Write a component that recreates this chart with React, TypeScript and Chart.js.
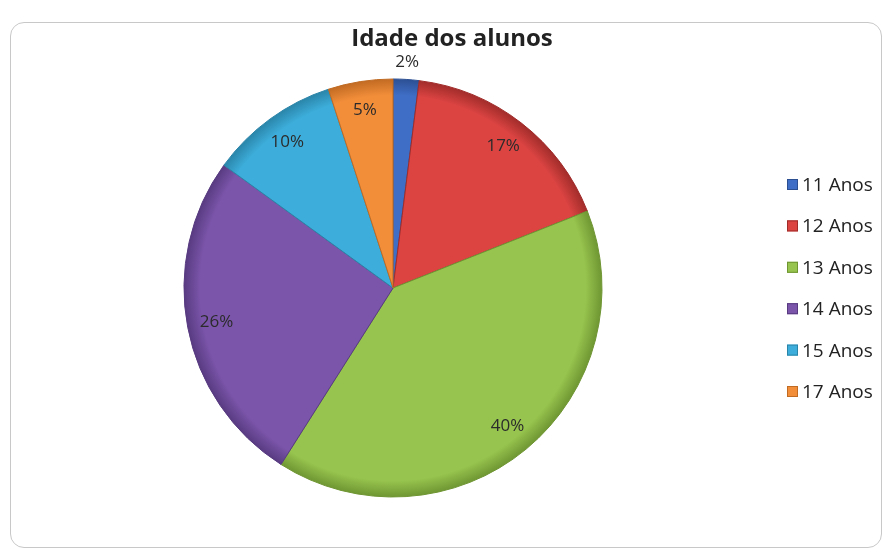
import React, { useEffect, useRef } from "react";
import { Chart, registerables } from "chart.js";
Chart.register(...registerables);

const chartTitle = "Idade dos alunos";
const categories = ["11 Anos", "12 Anos", "13 Anos", "14 Anos", "15 Anos", "17 Anos"];
const values = [2, 17, 40, 26, 10, 5];
const fillColors = ["#3F6EC6", "#DC4442", "#97C44E", "#7B55AA", "#3DAEDB", "#F28E3A"];
const edgeColors = ["#2C4F92", "#A02C2A", "#6E9532", "#573A80", "#2A84A8", "#C06A22"];

const FONT = "'Open Sans', 'DejaVu Sans', sans-serif";

export default function App() {
  const ref = useRef<HTMLCanvasElement>(null);
  useEffect(() => {
    const canvas = ref.current;
    if (!canvas) return;
    const total = values.reduce((a, b) => a + b, 0);

    const decor = {
      id: "decor",
      afterDraw(chart: any) {
        const ctx = chart.ctx as CanvasRenderingContext2D;
        const meta = chart.getDatasetMeta(0);
        ctx.save();
        // percentage labels
        ctx.font = `17px ${FONT}`;
        ctx.fillStyle = "#2b2b2b";
        ctx.textAlign = "center";
        ctx.textBaseline = "middle";
        meta.data.forEach((arc: any, i: number) => {
          const p = arc.getProps(["x", "y", "startAngle", "endAngle", "outerRadius"], true);
          const mid = (p.startAngle + p.endAngle) / 2;
          const frac = values[i] / total;
          const r = frac < 0.04 ? p.outerRadius + 17 : p.outerRadius * 0.86;
          const lx = p.x + Math.cos(mid) * r;
          const ly = p.y + Math.sin(mid) * r;
          ctx.fillText(Math.round(frac * 100) + "%", lx, ly);
        });
        // title
        ctx.font = `bold 24px ${FONT}`;
        ctx.fillStyle = "#222";
        ctx.fillText(chartTitle, 452, 39);
        // legend
        const cy = (chart.chartArea.top + chart.chartArea.bottom) / 2;
        const step = 41.4;
        ctx.font = `19px ${FONT}`;
        ctx.textAlign = "left";
        categories.forEach((c, i) => {
          const y = cy + (i - (categories.length - 1) / 2) * step;
          ctx.fillStyle = fillColors[i];
          ctx.fillRect(787, y - 5.5, 11, 11);
          ctx.strokeStyle = edgeColors[i];
          ctx.lineWidth = 1;
          ctx.strokeRect(787.5, y - 5, 10, 10);
          ctx.fillStyle = "#222";
          ctx.fillText(c, 802, y + 1);
        });
        ctx.restore();
      },
    };

    const chart = new Chart(canvas, {
      type: "pie",
      data: {
        labels: categories,
        datasets: [
          {
            data: values,
            backgroundColor: (c: any) => {
              const i = c.dataIndex;
              const area = c.chart.chartArea;
              if (!area) return fillColors[i];
              const cx = (area.left + area.right) / 2;
              const cyy = (area.top + area.bottom) / 2;
              const R = Math.min(area.right - area.left, area.bottom - area.top) / 2;
              const g = c.chart.ctx.createRadialGradient(cx, cyy, 0, cx, cyy, R);
              g.addColorStop(0, fillColors[i]);
              g.addColorStop(0.92, fillColors[i]);
              g.addColorStop(1, edgeColors[i]);
              return g;
            },
            borderColor: edgeColors,
            borderWidth: 1,
            hoverOffset: 0,
            offset: 0,
          } as any,
        ],
      },
      options: {
        responsive: false,
        animation: false,
        events: [],
        layout: { padding: { left: 183.5, top: 78.5, right: 285.5, bottom: 54.5 } },
        plugins: {
          legend: { display: false },
          title: { display: false },
          tooltip: { enabled: false },
        },
      },
      plugins: [decor],
    });
    return () => chart.destroy();
  }, []);

  return (
    <div style={{ position: "fixed", left: 0, top: 0, width: 888, height: 552, background: "#fff" }}>
      <div
        style={{
          position: "absolute",
          left: 10,
          top: 22,
          width: 872,
          height: 526,
          border: "1px solid #c8c8c8",
          borderRadius: 14,
          boxSizing: "border-box",
        }}
      />
      <canvas ref={ref} width={888} height={552} style={{ position: "absolute", left: 0, top: 0 }} />
    </div>
  );
}
